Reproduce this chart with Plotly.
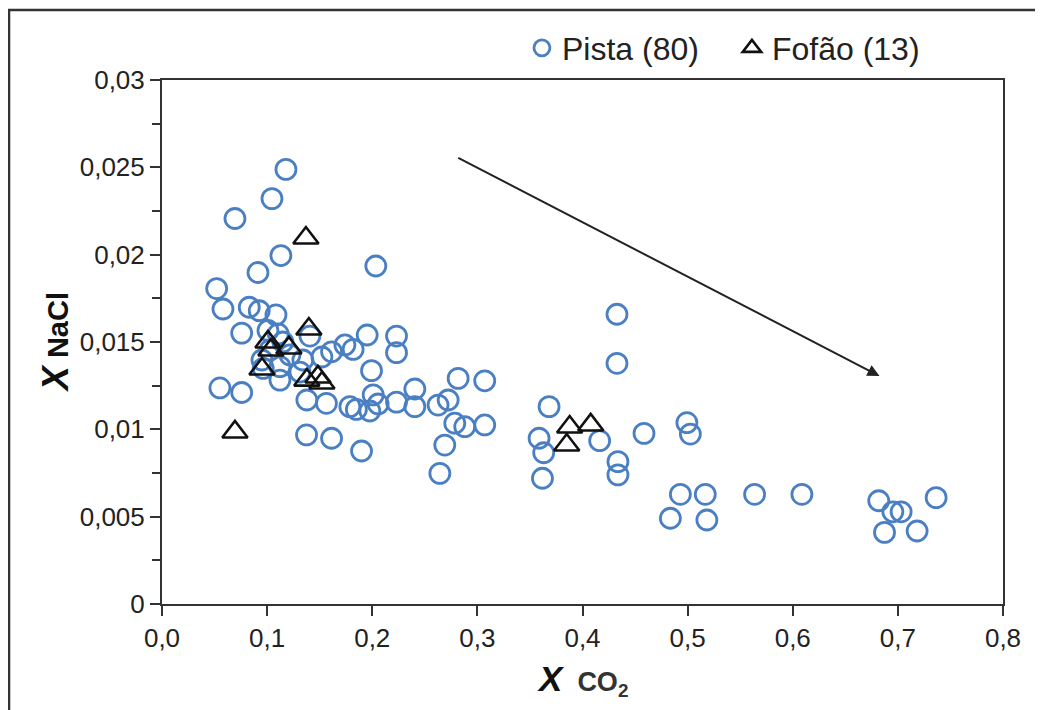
import plotly.graph_objects as go

# Pista (80) – X CO2 and X NaCl
pista_x = [0.1179, 0.1046, 0.0694, 0.1131, 0.2034, 0.0913, 0.0520, 0.0580, 0.0830, 0.0925,
           0.1084, 0.0758, 0.1008, 0.1106, 0.1952, 0.2231, 0.2231, 0.1818, 0.1613, 0.1521,
           0.1340, 0.1122, 0.0963, 0.1217, 0.1122, 0.0551, 0.0758, 0.1378, 0.1564, 0.1787,
           0.1849, 0.1977, 0.2056, 0.2009, 0.1993, 0.2231, 0.2405, 0.2405, 0.2626, 0.2722,
           0.2817, 0.3070, 0.2785, 0.2880, 0.3070, 0.2690, 0.2643, 0.1375, 0.1613, 0.1898,
           0.4328, 0.4328, 0.3682, 0.3587, 0.3631, 0.3619, 0.4163, 0.4337, 0.4337, 0.4585,
           0.4993, 0.5026, 0.4931, 0.5168, 0.4836, 0.5183, 0.5637, 0.6087, 0.6818, 0.6952,
           0.7031, 0.6873, 0.7183, 0.7364, 0.1407, 0.1027, 0.0951, 0.1740, 0.1150, 0.1312]
pista_y = [0.02488, 0.02321, 0.02207, 0.01995, 0.01935, 0.01898, 0.01806, 0.01689, 0.01699, 0.01679,
           0.01655, 0.01551, 0.01566, 0.01546, 0.01540, 0.01534, 0.01439, 0.01458, 0.01444, 0.01414,
           0.01397, 0.01359, 0.01349, 0.01426, 0.01282, 0.01237, 0.01211, 0.01168, 0.01149, 0.01130,
           0.01114, 0.01105, 0.01145, 0.01197, 0.01336, 0.01156, 0.01231, 0.01130, 0.01139, 0.01168,
           0.01292, 0.01278, 0.01035, 0.01015, 0.01025, 0.00910, 0.00748, 0.00968, 0.00949, 0.00876,
           0.01659, 0.01378, 0.01130, 0.00949, 0.00866, 0.00720, 0.00935, 0.00815, 0.00739, 0.00977,
           0.01038, 0.00973, 0.00628, 0.00628, 0.00491, 0.00481, 0.00628, 0.00628, 0.00591, 0.00528,
           0.00528, 0.00410, 0.00418, 0.00609, 0.01534, 0.01454, 0.01397, 0.01483, 0.01500, 0.01328]

# Fofão (13)
fofao_x = [0.1369, 0.0694, 0.1397, 0.1008, 0.1036, 0.1207, 0.0951, 0.1378, 0.1483, 0.1521,
           0.3878, 0.4078, 0.3850]
fofao_y = [0.02095, 0.00985, 0.01574, 0.01500, 0.01454, 0.01466, 0.01345, 0.01282, 0.01300, 0.01265,
           0.01013, 0.01025, 0.00910]

x_ticks = [0, 0.1, 0.2, 0.3, 0.4, 0.5, 0.6, 0.7, 0.8]
x_ticklabels = ["0,0", "0,1", "0,2", "0,3", "0,4", "0,5", "0,6", "0,7", "0,8"]
y_ticks = [0, 0.005, 0.01, 0.015, 0.02, 0.025, 0.03]
y_ticklabels = ["0", "0,005", "0,01", "0,015", "0,02", "0,025", "0,03"]

arrow_start = (0.2804, 0.02559)
arrow_end = (0.6825, 0.01305)

FONT = "Liberation Sans, Arial, sans-serif"
AX = "#333333"

fig = go.Figure()
fig.add_trace(go.Scatter(
    x=pista_x, y=pista_y, mode="markers", name="Pista (80)",
    marker=dict(symbol="circle-open", size=20, color="#4a80c3",
                line=dict(width=2.8, color="#4a80c3")),
))
fig.add_trace(go.Scatter(
    x=fofao_x, y=fofao_y, mode="markers", name="Fofão (13)",
    marker=dict(symbol="triangle-up-open", size=22, color="#111111",
                line=dict(width=2.6, color="#111111")),
))

fig.add_annotation(
    x=arrow_end[0], y=arrow_end[1], ax=arrow_start[0], ay=arrow_start[1],
    xref="x", yref="y", axref="x", ayref="y", text="",
    showarrow=True, arrowhead=2, arrowsize=1.2, arrowwidth=2, arrowcolor="#222222",
)

# axis titles
fig.add_annotation(
    x=-0.127, y=0.5, xref="paper", yref="paper", xanchor="center", yanchor="middle",
    textangle=-90, showarrow=False,
    text="<b><i><span style='font-size:36px'>X</span></i></b> <b>NaCl</b>",
    font=dict(family=FONT, size=29, color="#111111"),
)
fig.add_annotation(
    x=0.5, y=-0.145, xref="paper", yref="paper", xanchor="center", yanchor="middle",
    showarrow=False,
    text="<b><i><span style='font-size:35px;color:#111111'>X</span></i></b>  <b>CO<sub>2</sub></b>",
    font=dict(family=FONT, size=27, color="#333333"),
)

# outer frame
fig.add_shape(type="rect", xref="paper", yref="paper",
              x0=-0.1819, y0=-0.3, x1=1.2, y1=1.1336,
              line=dict(color="#333333", width=2.5), fillcolor="rgba(0,0,0,0)", layer="below")

fig.update_xaxes(
    range=[0, 0.8], tickvals=x_ticks, ticktext=x_ticklabels,
    showgrid=False, zeroline=False, showline=True, linecolor=AX, linewidth=2,
    mirror=True, ticks="outside", ticklen=10, tickwidth=1.5, tickcolor=AX,
    tickfont=dict(family=FONT, size=26, color="#222222"),
)
fig.update_yaxes(
    range=[0, 0.03], tickvals=y_ticks, ticktext=y_ticklabels,
    showgrid=False, zeroline=False, showline=True, linecolor=AX, linewidth=2,
    mirror=True, ticks="outside", ticklen=10, tickwidth=1.5, tickcolor=AX,
    tickfont=dict(family=FONT, size=26, color="#222222"),
    minor=dict(ticks="outside", tickvals=[0.0025, 0.0075, 0.0125, 0.0175, 0.0225, 0.0275],
               ticklen=8, tickwidth=1.5, tickcolor=AX),
)

fig.update_layout(
    width=1043, height=710,
    margin=dict(l=154, r=48, t=72, b=114),
    paper_bgcolor="white", plot_bgcolor="white",
    font=dict(family=FONT),
    showlegend=True,
    legend=dict(orientation="h", x=0.428, y=1.061, xanchor="left", yanchor="middle",
                font=dict(family=FONT, size=32, color="#222222"),
                bgcolor="rgba(0,0,0,0)", entrywidth=165, entrywidthmode="pixels"),
)

fig.write_html("out.html")
